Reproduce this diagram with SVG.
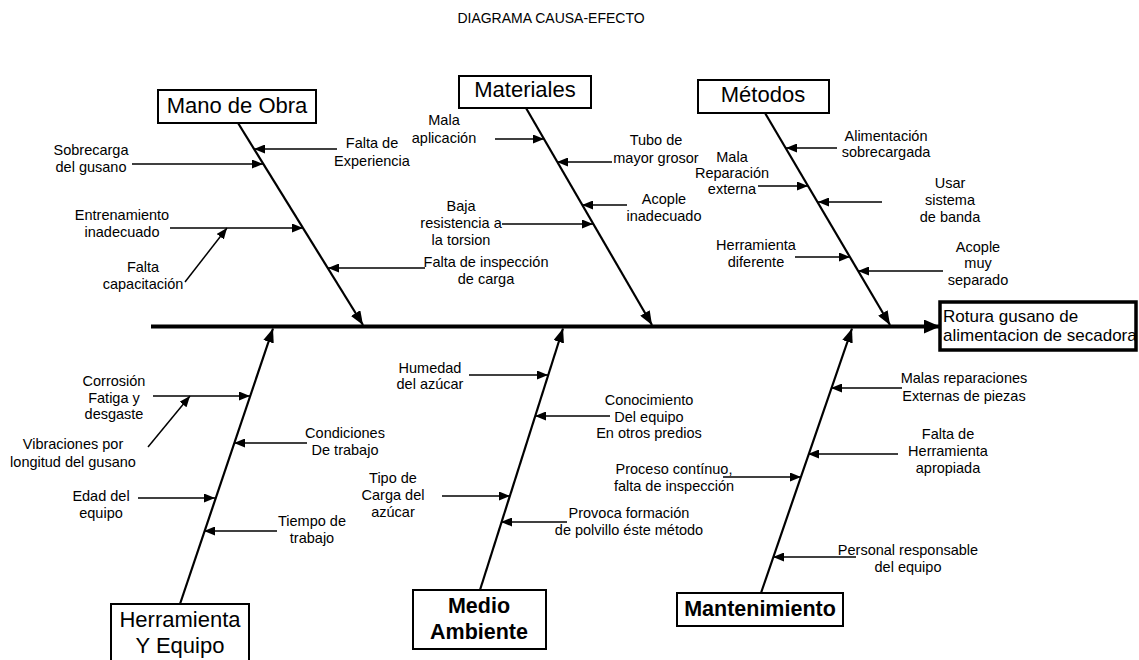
<svg xmlns="http://www.w3.org/2000/svg" width="1139" height="660" viewBox="0 0 1139 660">
<style>
  text { font-family: "Liberation Sans", Arial, sans-serif; fill: #000; }
  .lbl { font-size: 14.5px; text-anchor: middle; }
  .hdr { font-size: 22px; text-anchor: middle; }
  .hdrb { font-size: 21.5px; font-weight: bold; text-anchor: middle; }
  .box { fill: #fff; stroke: #000; stroke-width: 2; }
  .bone { stroke: #000; stroke-width: 2.2; fill: none; marker-end: url(#big); }
  .arr { stroke: #000; stroke-width: 1.5; fill: none; marker-end: url(#small); }
</style>
<defs>
  <marker id="small" markerUnits="userSpaceOnUse" markerWidth="11" markerHeight="9" refX="11" refY="4.5" orient="auto">
    <path d="M0,0 L11,4.5 L0,9 z" fill="#000"/>
  </marker>
  <marker id="big" markerUnits="userSpaceOnUse" markerWidth="14" markerHeight="11" refX="14" refY="5.5" orient="auto">
    <path d="M0,0 L14,5.5 L0,11 z" fill="#000"/>
  </marker>
  <marker id="spine" markerUnits="userSpaceOnUse" markerWidth="16" markerHeight="14" refX="16" refY="7" orient="auto">
    <path d="M0,0 L16,7 L0,14 z" fill="#000"/>
  </marker>
</defs>
<rect width="1139" height="660" fill="#fff"/>
<text x="551" y="23" font-size="14" text-anchor="middle">DIAGRAMA CAUSA-EFECTO</text>

<g id="connectors">
  <line x1="151" y1="326.5" x2="940" y2="326.5" stroke="#000" stroke-width="4" marker-end="url(#spine)"/>
  <line class="bone" x1="238" y1="123" x2="363" y2="325"/>
  <line class="bone" x1="526" y1="108" x2="652" y2="325"/>
  <line class="bone" x1="765" y1="113" x2="890" y2="325"/>
  <line class="bone" x1="180" y1="604" x2="273" y2="328.5"/>
  <line class="bone" x1="480" y1="590" x2="563" y2="328.5"/>
  <line class="bone" x1="761" y1="593" x2="852" y2="328.5"/>
  <!-- Mano de Obra -->
  <line class="arr" x1="337" y1="149" x2="254" y2="149"/>
  <line class="arr" x1="132" y1="164" x2="263" y2="164"/>
  <line class="arr" x1="170" y1="228" x2="303" y2="228"/>
  <line class="arr" x1="185" y1="282" x2="227" y2="228"/>
  <line class="arr" x1="425" y1="268" x2="328" y2="268"/>
  <!-- Materiales -->
  <line class="arr" x1="495" y1="139" x2="544" y2="139"/>
  <line class="arr" x1="612" y1="162" x2="557" y2="162"/>
  <line class="arr" x1="627" y1="205" x2="582" y2="205"/>
  <line class="arr" x1="502" y1="224" x2="593" y2="224"/>
  <!-- Metodos -->
  <line class="arr" x1="837" y1="148" x2="786" y2="148"/>
  <line class="arr" x1="758" y1="186" x2="808" y2="186"/>
  <line class="arr" x1="882" y1="202" x2="818" y2="202"/>
  <line class="arr" x1="795" y1="257" x2="850" y2="257"/>
  <line class="arr" x1="943" y1="271" x2="858" y2="271"/>
  <!-- Herramienta y Equipo -->
  <line class="arr" x1="153" y1="396" x2="250" y2="396"/>
  <line class="arr" x1="148" y1="447" x2="190" y2="396"/>
  <line class="arr" x1="307" y1="443" x2="234" y2="443"/>
  <line class="arr" x1="138" y1="498" x2="215" y2="498"/>
  <line class="arr" x1="277" y1="531" x2="204" y2="531"/>
  <!-- Medio Ambiente -->
  <line class="arr" x1="469" y1="375" x2="548" y2="375"/>
  <line class="arr" x1="610" y1="416" x2="535" y2="416"/>
  <line class="arr" x1="442" y1="496" x2="510" y2="496"/>
  <line class="arr" x1="567" y1="522" x2="501" y2="522"/>
  <!-- Mantenimiento -->
  <line class="arr" x1="902" y1="388" x2="831" y2="388"/>
  <line class="arr" x1="898" y1="454" x2="808" y2="454"/>
  <line class="arr" x1="723" y1="477" x2="801" y2="477"/>
  <line class="arr" x1="856" y1="557" x2="773" y2="557"/>
</g>

<g id="efecto">
  <rect x="940" y="302" width="196" height="48" fill="#fff" stroke="#000" stroke-width="3.5"/>
  <text x="943" y="322" font-size="17">Rotura gusano de</text>
  <text x="943" y="341" font-size="17">alimentacion de secadora</text>
</g>

<g id="mano-de-obra">
  <rect class="box" x="158" y="90" width="158" height="33"/>
  <text class="hdr" x="237" y="113">Mano de Obra</text>
  <text class="lbl" x="372" y="148">Falta de</text>
  <text class="lbl" x="372" y="166">Experiencia</text>
  <text class="lbl" x="91" y="155">Sobrecarga</text>
  <text class="lbl" x="91" y="172">del gusano</text>
  <text class="lbl" x="122" y="220">Entrenamiento</text>
  <text class="lbl" x="122" y="237">inadecuado</text>
  <text class="lbl" x="143" y="272">Falta</text>
  <text class="lbl" x="143" y="289">capacitación</text>
  <text class="lbl" x="486" y="267">Falta de inspección</text>
  <text class="lbl" x="486" y="284">de carga</text>
</g>

<g id="materiales">
  <rect class="box" x="459" y="76" width="132" height="32"/>
  <text class="hdr" x="525" y="97">Materiales</text>
  <text class="lbl" x="444" y="125">Mala</text>
  <text class="lbl" x="444" y="143">aplicación</text>
  <text class="lbl" x="656" y="145">Tubo de</text>
  <text class="lbl" x="656" y="163">mayor grosor</text>
  <text class="lbl" x="664" y="204">Acople</text>
  <text class="lbl" x="664" y="221">inadecuado</text>
  <text class="lbl" x="461" y="211">Baja</text>
  <text class="lbl" x="461" y="228">resistencia a</text>
  <text class="lbl" x="461" y="245">la torsion</text>
</g>

<g id="metodos">
  <rect class="box" x="698" y="80" width="131" height="33"/>
  <text class="hdr" x="763" y="102">Métodos</text>
  <text class="lbl" x="886" y="141">Alimentación</text>
  <text class="lbl" x="886" y="157">sobrecargada</text>
  <text class="lbl" x="732" y="162">Mala</text>
  <text class="lbl" x="732" y="178">Reparación</text>
  <text class="lbl" x="732" y="194">externa</text>
  <text class="lbl" x="950" y="188">Usar</text>
  <text class="lbl" x="950" y="205">sistema</text>
  <text class="lbl" x="950" y="222">de banda</text>
  <text class="lbl" x="756" y="250">Herramienta</text>
  <text class="lbl" x="756" y="267">diferente</text>
  <text class="lbl" x="978" y="252">Acople</text>
  <text class="lbl" x="978" y="268">muy</text>
  <text class="lbl" x="978" y="285">separado</text>
</g>

<g id="herramienta-equipo">
  <rect class="box" x="111" y="604" width="138" height="70"/>
  <text class="hdr" x="180" y="627">Herramienta</text>
  <text class="hdr" x="180" y="653">Y Equipo</text>
  <text class="lbl" x="114" y="386">Corrosión</text>
  <text class="lbl" x="114" y="403">Fatiga y</text>
  <text class="lbl" x="114" y="419">desgaste</text>
  <text class="lbl" x="73" y="449">Vibraciones por</text>
  <text class="lbl" x="73" y="467">longitud del gusano</text>
  <text class="lbl" x="345" y="438">Condiciones</text>
  <text class="lbl" x="345" y="455">De trabajo</text>
  <text class="lbl" x="101" y="501">Edad del</text>
  <text class="lbl" x="101" y="518">equipo</text>
  <text class="lbl" x="312" y="526">Tiempo de</text>
  <text class="lbl" x="312" y="543">trabajo</text>
</g>

<g id="medio-ambiente">
  <rect class="box" x="413" y="590" width="133" height="59"/>
  <text class="hdrb" x="479" y="613">Medio</text>
  <text class="hdrb" x="479" y="639">Ambiente</text>
  <text class="lbl" x="430" y="373">Humedad</text>
  <text class="lbl" x="430" y="389">del azúcar</text>
  <text class="lbl" x="649" y="405">Conocimiento</text>
  <text class="lbl" x="649" y="422">Del equipo</text>
  <text class="lbl" x="649" y="438">En otros predios</text>
  <text class="lbl" x="393" y="483">Tipo de</text>
  <text class="lbl" x="393" y="500">Carga del</text>
  <text class="lbl" x="393" y="517">azúcar</text>
  <text class="lbl" x="629" y="518">Provoca formación</text>
  <text class="lbl" x="629" y="535">de polvillo éste método</text>
</g>

<g id="mantenimiento">
  <rect class="box" x="677" y="593" width="166" height="33"/>
  <text class="hdrb" x="760" y="616">Mantenimiento</text>
  <text class="lbl" x="964" y="383">Malas reparaciones</text>
  <text class="lbl" x="964" y="401">Externas de piezas</text>
  <text class="lbl" x="948" y="439">Falta de</text>
  <text class="lbl" x="948" y="456">Herramienta</text>
  <text class="lbl" x="948" y="473">apropiada</text>
  <text class="lbl" x="674" y="474">Proceso contínuo,</text>
  <text class="lbl" x="674" y="491">falta de inspección</text>
  <text class="lbl" x="908" y="555">Personal responsable</text>
  <text class="lbl" x="908" y="572">del equipo</text>
</g>
</svg>
